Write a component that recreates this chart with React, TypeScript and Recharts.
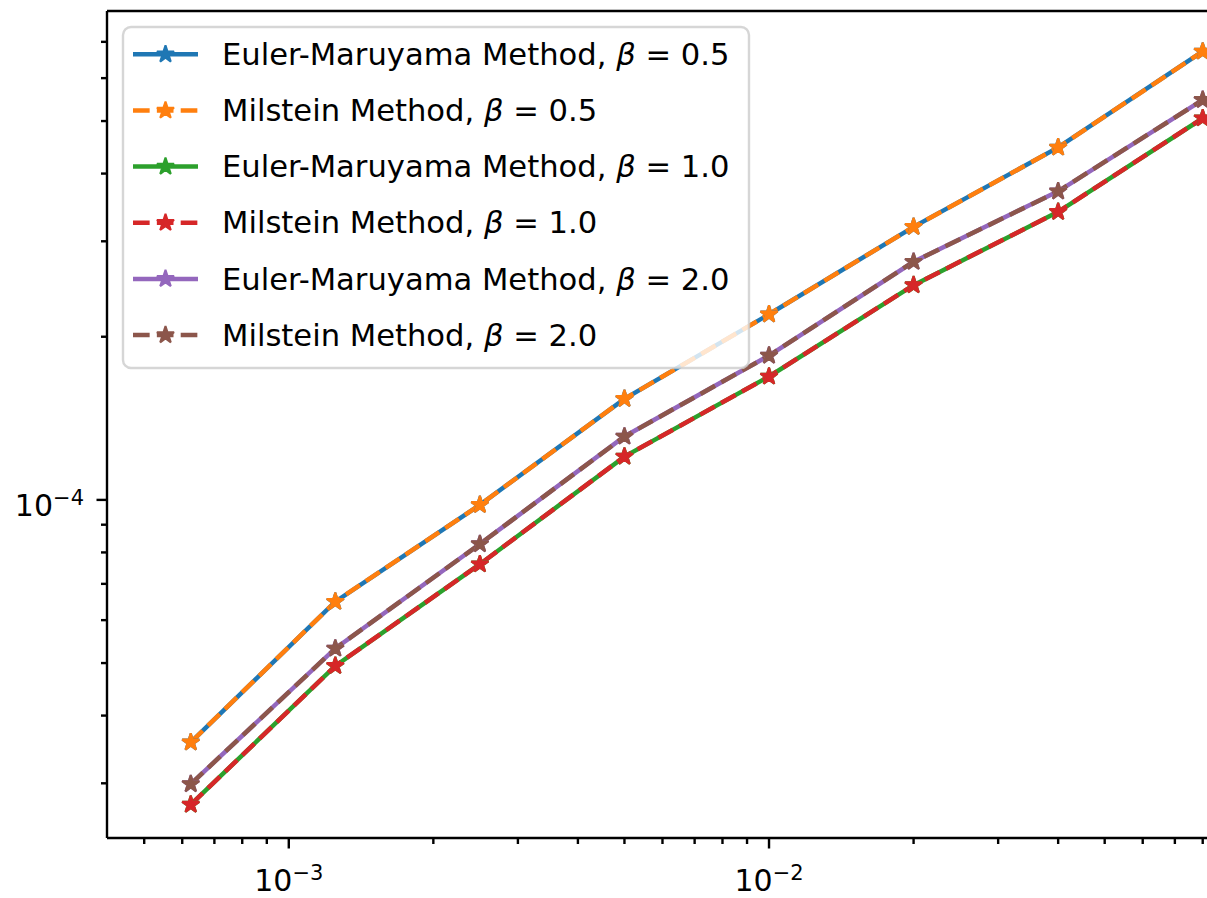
import React from 'react';
import { LineChart, Line, XAxis, YAxis, ReferenceLine, Legend } from 'recharts';

// step sizes h (x axis) and the strong error
const stepSizes = [0.000625, 0.00125, 0.0025, 0.005, 0.01, 0.02, 0.04, 0.08];

const eulerBeta05 = [3.57e-5, 6.49e-5, 9.79e-5, 1.536e-4, 2.2e-4, 3.19e-4, 4.47e-4, 6.72e-4];
const milsteinBeta05 = [3.57e-5, 6.49e-5, 9.79e-5, 1.536e-4, 2.2e-4, 3.19e-4, 4.47e-4, 6.72e-4];
const eulerBeta10 = [2.74e-5, 4.94e-5, 7.61e-5, 1.202e-4, 1.689e-4, 2.49e-4, 3.4e-4, 5.06e-4];
const milsteinBeta10 = [2.74e-5, 4.94e-5, 7.61e-5, 1.202e-4, 1.689e-4, 2.49e-4, 3.4e-4, 5.06e-4];
const eulerBeta20 = [2.99e-5, 5.32e-5, 8.29e-5, 1.309e-4, 1.846e-4, 2.75e-4, 3.71e-4, 5.47e-4];
const milsteinBeta20 = [2.99e-5, 5.32e-5, 8.29e-5, 1.309e-4, 1.846e-4, 2.75e-4, 3.71e-4, 5.47e-4];

const xTicks = [
  5e-4, 6e-4, 7e-4, 8e-4, 9e-4, 1e-3,
  2e-3, 3e-3, 4e-3, 5e-3, 6e-3, 7e-3, 8e-3, 9e-3, 1e-2,
  2e-2, 3e-2, 4e-2, 5e-2, 6e-2, 7e-2, 8e-2,
];
const yTicks = [
  3e-5, 4e-5, 5e-5, 6e-5, 7e-5, 8e-5, 9e-5, 1e-4,
  2e-4, 3e-4, 4e-4, 5e-4, 6e-4, 7e-4,
];

const X_DOMAIN: [number, number] = [4.183e-4, 0.08166];
const Y_DOMAIN: [number, number] = [2.378e-5, 7.98e-4];

const FONT = 'DejaVu Sans';
const LW = 4.5;
const DASH = '16.65 7.2';

interface SeriesDef {
  key: string;
  label: string;
  beta: string;
  color: string;
  dashed: boolean;
  values: number[];
}

const seriesList: SeriesDef[] = [
  { key: 'em05', label: 'Euler-Maruyama Method', beta: '0.5', color: '#1f77b4', dashed: false, values: eulerBeta05 },
  { key: 'mil05', label: 'Milstein Method', beta: '0.5', color: '#ff7f0e', dashed: true, values: milsteinBeta05 },
  { key: 'em10', label: 'Euler-Maruyama Method', beta: '1.0', color: '#2ca02c', dashed: false, values: eulerBeta10 },
  { key: 'mil10', label: 'Milstein Method', beta: '1.0', color: '#d62728', dashed: true, values: milsteinBeta10 },
  { key: 'em20', label: 'Euler-Maruyama Method', beta: '2.0', color: '#9467bd', dashed: false, values: eulerBeta20 },
  { key: 'mil20', label: 'Milstein Method', beta: '2.0', color: '#8c564b', dashed: true, values: milsteinBeta20 },
];

const chartData = stepSizes.map((h, i) => {
  const row: Record<string, number> = { h };
  seriesList.forEach((s) => {
    row[s.key] = s.values[i];
  });
  return row;
});

const isMajor = (v: number) => Math.abs(Math.log10(v) - Math.round(Math.log10(v))) < 1e-6;

const Star = ({ cx, cy, color }: { cx: number; cy: number; color: string }) => {
  const r = 9;
  const inner = r * 0.381966;
  const pts: string[] = [];
  for (let k = 0; k < 10; k++) {
    const rad = k % 2 === 0 ? r : inner;
    const a = -Math.PI / 2 + (k * Math.PI) / 5;
    pts.push(`${cx + rad * Math.cos(a)},${cy + rad * Math.sin(a)}`);
  }
  return <polygon points={pts.join(' ')} fill={color} stroke={color} strokeWidth={2} strokeLinejoin="bevel" />;
};

const PowerLabel = ({ x, y, value, anchor }: { x: number; y: number; value: number; anchor: 'middle' | 'end' }) => {
  const exp = Math.round(Math.log10(value));
  return (
    <text x={x} y={y} textAnchor={anchor} fontFamily={FONT} fontSize={30} fill="#000">
      10
      <tspan fontSize={21} dy={-11}>{(exp < 0 ? '\u2212' : '') + Math.abs(exp)}</tspan>
    </text>
  );
};

const XTick = (props: any) => {
  const { x, y, payload } = props;
  const major = isMajor(payload.value);
  return (
    <g>
      <line x1={x} x2={x} y1={y} y2={y + (major ? 10.5 : 6)} stroke="#000" strokeWidth={2.4} />
      {major && <PowerLabel x={x} y={y + 53} value={payload.value} anchor="middle" />}
    </g>
  );
};

const YTick = (props: any) => {
  const { x, y, payload } = props;
  const major = isMajor(payload.value);
  return (
    <g>
      <line x1={x - (major ? 10.5 : 6)} x2={x} y1={y} y2={y} stroke="#000" strokeWidth={2.4} />
      {major && <PowerLabel x={x - 23} y={y + 16} value={payload.value} anchor="end" />}
    </g>
  );
};

const starDot = (color: string) => (props: any) => {
  if (props.cx == null || props.cy == null) return <g key={`e-${props.index}`} />;
  return <Star key={`s-${props.index}`} cx={props.cx} cy={props.cy} color={color} />;
};

const LegendBox = () => (
  <svg width={634} height={348} style={{ display: 'block' }}>
    <rect
      x={2}
      y={2}
      width={626}
      height={341}
      rx={8}
      fill="#ffffff"
      fillOpacity={0.8}
      stroke="#cccccc"
      strokeOpacity={0.8}
      strokeWidth={2.4}
    />
    {seriesList.map((s, i) => {
      const cy = 29.3 + i * 56.15;
      return (
        <g key={s.key}>
          <line
            x1={12}
            x2={77}
            y1={cy}
            y2={cy}
            stroke={s.color}
            strokeWidth={LW}
            strokeDasharray={s.dashed ? DASH : undefined}
          />
          <Star cx={44.5} cy={cy} color={s.color} />
          <text x={101} y={cy + 10.7} fontFamily={FONT} fontSize={30.6} fill="#000" style={{ whiteSpace: 'pre' }}>
            {`${s.label}, `}
            <tspan fontStyle="italic">β</tspan>
            {` = ${s.beta}`}
          </text>
        </g>
      );
    })}
  </svg>
);

const App: React.FC = () => {
  return (
    <div style={{ position: 'absolute', left: 0, top: 0, background: '#fff' }}>
      <LineChart width={1207} height={898} data={chartData} margin={{ top: 11, right: 0, bottom: 0, left: 0 }}>
        <XAxis
          dataKey="h"
          type="number"
          scale="log"
          domain={X_DOMAIN}
          allowDataOverflow
          ticks={xTicks}
          interval={0}
          height={60}
          tickSize={0}
          tickMargin={0}
          tickLine={false}
          tick={(p: any) => <XTick {...p} />}
          axisLine={{ stroke: '#000', strokeWidth: 2.4 }}
        />
        <YAxis
          type="number"
          scale="log"
          domain={Y_DOMAIN}
          allowDataOverflow
          ticks={yTicks}
          interval={0}
          width={107}
          tickSize={0}
          tickMargin={0}
          tickLine={false}
          tick={(p: any) => <YTick {...p} />}
          axisLine={{ stroke: '#000', strokeWidth: 2.4 }}
        />
        <ReferenceLine y={Y_DOMAIN[1]} stroke="#000" strokeWidth={2.4} ifOverflow="visible" />
        {seriesList.map((s) => (
          <Line
            key={s.key}
            dataKey={s.key}
            type="linear"
            stroke={s.color}
            strokeWidth={LW}
            strokeDasharray={s.dashed ? DASH : undefined}
            dot={starDot(s.color)}
            activeDot={false}
            isAnimationActive={false}
          />
        ))}
        <Legend
          layout="vertical"
          align="center"
          verticalAlign="middle"
          content={() => <LegendBox />}
          wrapperStyle={{ left: 121, top: 25, width: 634, height: 348 }}
        />
      </LineChart>
    </div>
  );
};

export default App;
